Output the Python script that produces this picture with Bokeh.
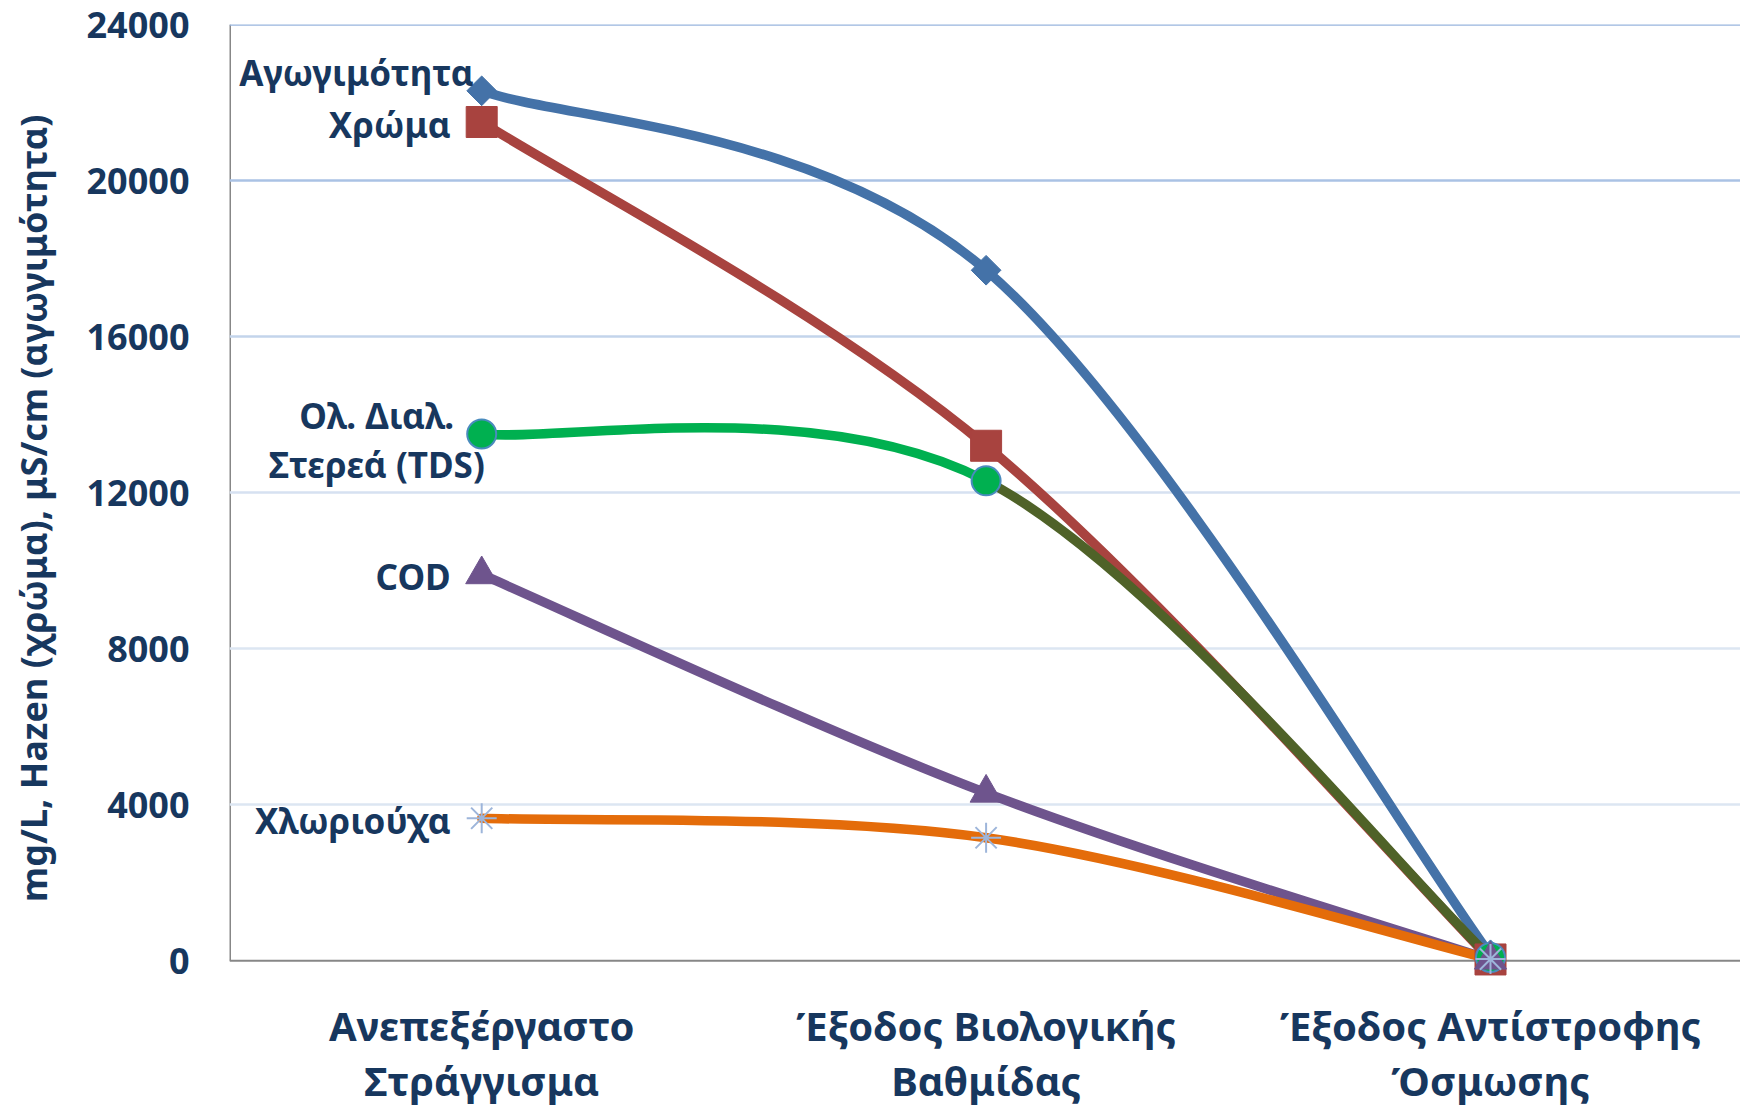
import math
from bokeh.plotting import figure
from bokeh.models import Range1d, FixedTicker, Span, ColumnDataSource, Label
from bokeh.embed import file_html
from bokeh.resources import INLINE

# ---------------- data ----------------
categories = ["Ανεπεξέργαστο\nΣτράγγισμα",
              "Έξοδος Βιολογικής\nΒαθμίδας",
              "Έξοδος Αντίστροφης\nΌσμωσης"]
series_names = ["Αγωγιμότητα", "Χρώμα", "Ολ. Διαλ.\nΣτερεά (TDS)", "COD", "Χλωριούχα"]
conductivity = [22300, 17700, 150]
colour_hazen = [21500, 13200, 30]
tds = [13500, 12300, 80]
cod = [9900, 4300, 20]
chlorides = [3650, 3150, 40]
y_ticks = [0, 4000, 8000, 12000, 16000, 20000, 24000]
y_title = "mg/L,  Hazen (χρώμα), μS/cm (αγωγιμότητα)"

# ---------------- styles ----------------
TEXT = "#17375E"
FONT = "Noto Sans"
AXIS = "#878787"
grid_colors = {4000: "#DCE6F2", 8000: "#DCE6F2", 12000: "#D6E1F1",
               16000: "#C3D4EB", 20000: "#AAC2E4", 24000: "#98B5DE"}

styles = [
    dict(seg_colors=["#4472A8", "#4472A8"], marker="square", angle=math.pi / 4, size=21,
         fill="#4472A8", line="#4472A8", lw=1, lab_dx=-8, lab_dy=18, align="right"),
    dict(seg_colors=["#A8433F", "#A8433F"], marker="square", angle=0, size=31,
         fill="#A8433F", line="#A8433F", lw=1, lab_dx=-31, lab_dy=-2, align="right"),
    dict(seg_colors=["#00B050", "#4F6228"], marker="circle", angle=0, size=29,
         fill="#00B050", line="#4A8BBE", lw=2, lab_dx=-105, lab_dy=-6, align="center"),
    dict(seg_colors=["#6E548D", "#6E548D"], marker="triangle", angle=0, size=32,
         fill="#6E548D", line="#6E548D", lw=1, lab_dx=-31, lab_dy=-2, align="right"),
    dict(seg_colors=["#E46C0A", "#E46C0A"], marker="asterisk", angle=0, size=30,
         fill=None, line="#9DB5DA", lw=2, lab_dx=-31, lab_dy=-2, align="right"),
]
all_series = [conductivity, colour_hazen, tds, cod, chlorides]

xs = [i + 0.5 for i in range(len(categories))]

W, H = 1740, 1110
LEFT, TOP = 229, 24
PLOT_H = 942            # pixels from y=0 to y=24000
PAD = 22                # extra frame room below zero so markers at 0 are not clipped
BOTTOM = H - TOP - PLOT_H - PAD
CAT_PX = 504.4
y_max = y_ticks[-1]
y_min = -PAD * y_max / PLOT_H

p = figure(width=W, height=H,
           x_range=Range1d(0, (W - LEFT) / CAT_PX), y_range=Range1d(y_min, y_max),
           output_backend="svg", toolbar_location=None,
           min_border_left=LEFT, min_border_right=0,
           min_border_top=TOP, min_border_bottom=BOTTOM)
p.outline_line_color = None
p.background_fill_color = "white"
p.border_fill_color = "white"
p.xgrid.visible = False
p.ygrid.visible = False

for t in y_ticks:
    if t in grid_colors:
        p.add_layout(Span(location=t, dimension="width",
                          line_color=grid_colors[t], line_width=2.5, level="underlay"))
# category (x) axis line at y = 0, value axis line from 0 to max
p.add_layout(Span(location=y_ticks[0], dimension="width",
                  line_color=AXIS, line_width=2, level="underlay"))
p.segment(x0=[0], y0=[y_ticks[0]], x1=[0], y1=[y_max],
          line_color=AXIS, line_width=3, level="underlay")

# axes
p.yaxis.ticker = FixedTicker(ticks=y_ticks)
p.yaxis.major_tick_out = 0
p.yaxis.major_tick_in = 0
p.yaxis.minor_tick_out = 0
p.yaxis.minor_tick_in = 0
p.yaxis.axis_line_color = None
p.yaxis.major_label_standoff = 40
p.yaxis.major_label_text_font = FONT
p.yaxis.major_label_text_font_style = "bold"
p.yaxis.major_label_text_font_size = "36px"
p.yaxis.major_label_text_color = TEXT
p.yaxis.axis_label = y_title
p.yaxis.axis_label_text_font = FONT
p.yaxis.axis_label_text_font_style = "bold"
p.yaxis.axis_label_text_font_size = "36px"
p.yaxis.axis_label_text_color = TEXT
p.yaxis.axis_label_standoff = 26

p.xaxis.ticker = FixedTicker(ticks=xs)
p.xaxis.major_label_overrides = {x: c for x, c in zip(xs, categories)}
p.xaxis.major_tick_out = 0
p.xaxis.major_tick_in = 0
p.xaxis.minor_tick_out = 0
p.xaxis.minor_tick_in = 0
p.xaxis.axis_line_color = None
p.xaxis.major_label_standoff = 37 - PAD
p.xaxis.major_label_text_font = FONT
p.xaxis.major_label_text_font_style = "bold"
p.xaxis.major_label_text_font_size = "40px"
p.xaxis.major_label_text_color = TEXT
p.xaxis.major_label_text_line_height = 1.0


def smooth_segments(xv, yv):
    """Excel-like smoothed line: cubic Bezier segments with 1/6 tangent factor."""
    n = len(xv)
    out = dict(x0=[], y0=[], x1=[], y1=[], cx0=[], cy0=[], cx1=[], cy1=[])
    for i in range(n - 1):
        ip = max(i - 1, 0)
        inx = min(i + 2, n - 1)
        out["x0"].append(xv[i]); out["y0"].append(yv[i])
        out["x1"].append(xv[i + 1]); out["y1"].append(yv[i + 1])
        out["cx0"].append(xv[i] + (xv[i + 1] - xv[ip]) / 6)
        out["cy0"].append(yv[i] + (yv[i + 1] - yv[ip]) / 6)
        out["cx1"].append(xv[i + 1] - (xv[inx] - xv[i]) / 6)
        out["cy1"].append(yv[i + 1] - (yv[inx] - yv[i]) / 6)
    return out


# lines first
for vals, st in zip(all_series, styles):
    seg = smooth_segments(xs, vals)
    seg["color"] = st["seg_colors"]
    src = ColumnDataSource(seg)
    p.bezier(x0="x0", y0="y0", x1="x1", y1="y1", cx0="cx0", cy0="cy0",
             cx1="cx1", cy1="cy1", line_color="color", line_width=9.5,
             line_cap="round", source=src)

# markers on top of all lines
for vals, st in zip(all_series, styles):
    p.scatter(xs, vals, marker=st["marker"], size=st["size"], angle=st["angle"],
              fill_color=st["fill"], line_color=st["line"], line_width=st["lw"])

for name, vals, st in zip(series_names, all_series, styles):
    p.add_layout(Label(x=xs[0], y=vals[0], text=name,
                       x_offset=st["lab_dx"], y_offset=st["lab_dy"],
                       text_align=st["align"], text_baseline="middle",
                       text_font=FONT, text_font_style="bold",
                       text_font_size="35px", text_color=TEXT,
                       text_line_height=1.05))

open("out.html", "w").write(file_html(p, INLINE))
